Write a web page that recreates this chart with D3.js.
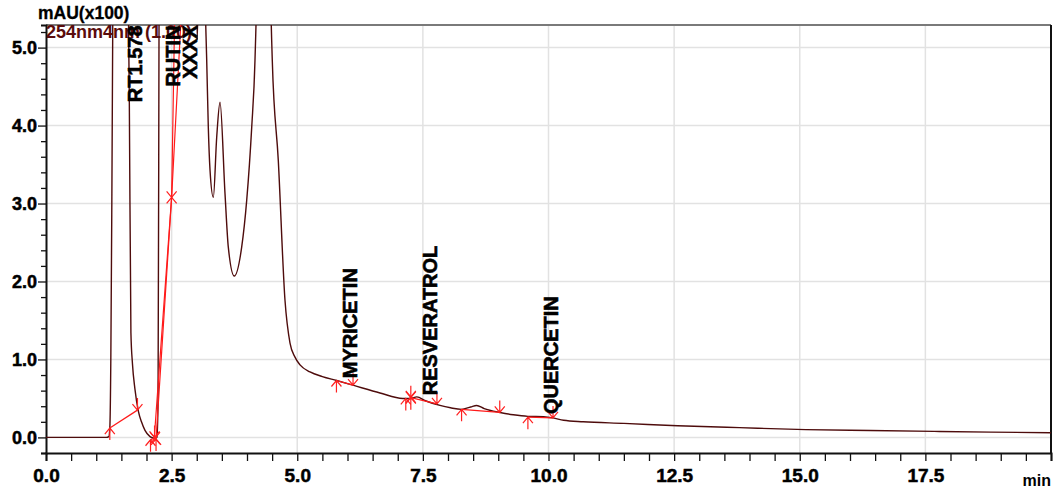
<!DOCTYPE html>
<html>
<head>
<meta charset="utf-8">
<script src="https://cdn.jsdelivr.net/npm/d3@7"></script>
<style>
  body { margin: 0; background: #fff; }
  svg { display: block; font-family: "Liberation Sans", Arial, sans-serif; }
</style>
</head>
<body>
<div class="chart"></div>
<script>
// chromatogram trace (min, mAU x100)
const traceTime = [0.0, 1.20, 1.25, 1.27, 1.29, 1.31, 1.33, 1.45, 1.60, 1.658, 1.69, 1.72, 1.77, 1.84, 1.90, 1.97, 2.07, 2.15, 2.21,
  2.23, 2.25, 2.35, 2.70, 2.85, 2.97, 3.01, 3.05, 3.12, 3.17, 3.198, 3.23, 3.264, 3.33, 3.397, 3.463, 3.562, 3.628, 3.747,
  3.894, 3.994, 4.094, 4.159, 4.20, 4.33, 4.45, 4.503, 4.623, 4.756, 4.856, 4.955, 5.055, 5.254, 5.5, 5.785, 6.11, 6.647,
  7.10, 7.25, 7.38, 7.55, 7.84, 8.05, 8.27, 8.45, 8.57, 8.72, 9.035, 9.3, 9.59, 9.9, 10.09, 10.3, 10.69, 11.5, 12.57,
  13.8, 15.12, 16.4, 17.68, 18.8, 20.0];
const traceValue = [0.0, 0.0, 0.01, 0.12, 1.0, 3.0, 5.5, 30, 8, 4.33, 1.34, 0.95, 0.62, 0.33, 0.20, 0.09, 0.01, -0.01, 0.0,
  0.5, 5.5, 30, 30, 20, 7, 5.1, 6.5, 7, 5.5, 4.84, 3.98, 3.43, 3.08, 3.85, 4.30, 3.13, 2.44, 2.07,
  2.44, 3.04, 3.98, 4.84, 6, 20, 6.5, 4.84, 3.55, 1.76, 1.21, 1.03, 0.93, 0.84, 0.78, 0.73, 0.67, 0.57,
  0.50, 0.50, 0.52, 0.47, 0.41, 0.38, 0.36, 0.39, 0.41, 0.37, 0.32, 0.29, 0.27, 0.265, 0.25, 0.22, 0.20, 0.18, 0.15,
  0.125, 0.10, 0.088, 0.077, 0.068, 0.06];

// peak labels
const peakNames = ["RT1.578", "RUTIN", "XXXX", "MYRICETIN", "RESVERATROL", "QUERCETIN"];
const peakLabelTime = [1.91, 2.66, 3.01, 6.19, 7.78, 10.19];
const peakLabelLevel = [4.30, 4.50, 4.60, 0.76, 0.54, 0.30];

// integration marks
const startMarks = [[1.27, 0.12], [2.08, -0.03], [2.19, -0.02], [5.78, 0.73], [7.16, 0.50], [7.26, 0.51], [8.27, 0.36], [9.59, 0.26]];
const endMarks = [[1.82, 0.35], [2.16, 0.0], [6.11, 0.67], [7.26, 0.51], [7.78, 0.43], [9.03, 0.32], [10.09, 0.25]];
const splitMarks = [[2.17, -0.01], [2.50, 3.08], [7.26, 0.52]];
const baselines = [
  [[1.27, 0.12], [1.82, 0.35]],
  [[2.08, -0.03], [2.20, 0.0]],
  [[2.19, -0.02], [2.50, 3.08], [2.69, 5.4]],
  [[2.15, -0.05], [2.50, 3.08], [2.56, 5.4]],
  [[5.78, 0.73], [6.11, 0.67]],
  [[7.26, 0.51], [7.78, 0.43]],
  [[8.27, 0.36], [9.03, 0.32]],
  [[9.59, 0.26], [10.09, 0.25]]
];

const xTicks = [0, 2.5, 5, 7.5, 10, 12.5, 15, 17.5];
const yTicks = [0, 1, 2, 3, 4, 5];

const width = 1064, height = 495;
const margin = { top: 25, right: 13, bottom: 42, left: 46 };

const svg = d3.select(".chart")
  .append("svg")
  .attr("width", width)
  .attr("height", height);

const x = d3.scaleLinear().domain([0, 20]).range([margin.left, width - margin.right]);
const y = d3.scaleLinear().domain([-0.2, 5.29]).range([height - margin.bottom, margin.top]);

svg.append("clipPath").attr("id", "plot")
  .append("rect")
  .attr("x", margin.left).attr("y", margin.top)
  .attr("width", width - margin.left - margin.right)
  .attr("height", height - margin.top - margin.bottom);

// grid
svg.append("g")
  .selectAll("line")
  .data(xTicks.slice(1))
  .join("line")
  .attr("x1", d => x(d)).attr("x2", d => x(d))
  .attr("y1", margin.top).attr("y2", height - margin.bottom)
  .attr("stroke", "#e2e2e2").attr("stroke-width", 1.5);

svg.append("g")
  .selectAll("line")
  .data(yTicks)
  .join("line")
  .attr("x1", margin.left).attr("x2", width - margin.right)
  .attr("y1", d => y(d)).attr("y2", d => y(d))
  .attr("stroke", "#e2e2e2").attr("stroke-width", 1.5);

// frame
svg.append("line")
  .attr("x1", margin.left).attr("x2", width - margin.right)
  .attr("y1", margin.top).attr("y2", margin.top)
  .attr("stroke", "#7a7a7a").attr("stroke-width", 2);
svg.append("line")
  .attr("x1", width - margin.right).attr("x2", width - margin.right)
  .attr("y1", margin.top).attr("y2", height - margin.bottom)
  .attr("stroke", "#111").attr("stroke-width", 2);

// axes
const xAxis = d3.axisBottom(x)
  .tickValues(d3.range(0, 20.01, 0.5))
  .tickSize(8)
  .tickFormat(d => xTicks.includes(d) ? d.toFixed(1) : "");

svg.append("g")
  .attr("transform", `translate(0,${height - margin.bottom})`)
  .call(xAxis)
  .call(g => g.select(".domain").attr("stroke", "#111").attr("stroke-width", 2))
  .call(g => g.selectAll(".tick line").attr("stroke", "#111").attr("stroke-width", 1.3))
  .call(g => g.selectAll(".tick text")
    .attr("y", 16)
    .attr("fill", "#000")
    .attr("stroke", "#000")
    .attr("stroke-width", 0.5)
    .style("font-size", "19px")
    .style("font-weight", "bold"));

const yAxis = d3.axisLeft(y)
  .tickValues(d3.range(-0.2, 5.21, 0.2).map(d => Math.round(d * 10) / 10))
  .tickSize(5)
  .tickFormat(d => yTicks.includes(d) ? d.toFixed(1) : "");

svg.append("g")
  .attr("transform", `translate(${margin.left},0)`)
  .call(yAxis)
  .call(g => g.select(".domain").attr("stroke", "#111").attr("stroke-width", 2))
  .call(g => g.selectAll(".tick line")
    .attr("stroke", "#111")
    .attr("stroke-width", 1.3)
    .attr("x2", d => yTicks.includes(d) ? -8 : -5))
  .call(g => g.selectAll(".tick text")
    .attr("x", -9)
    .attr("fill", "#000")
    .attr("stroke", "#000")
    .attr("stroke-width", 0.5)
    .style("font-size", "18px")
    .style("font-weight", "bold"));

svg.append("text")
  .attr("x", width - margin.right)
  .attr("y", 486)
  .attr("text-anchor", "end")
  .style("font-size", "16px")
  .style("font-weight", "bold")
  .text("min");

svg.append("text")
  .attr("x", 38).attr("y", 19)
  .attr("stroke", "#000")
  .attr("stroke-width", 0.3)
  .style("font-size", "17.5px")
  .style("font-weight", "bold")
  .text("mAU(x100)");

svg.append("text")
  .attr("x", 46).attr("y", 38)
  .attr("fill", "#5a0c0c")
  .style("font-size", "18px")
  .style("font-weight", "bold")
  .text("254nm4nm (1.00)");

// trace
const traceData = traceTime.map((t, i) => ({ t, v: traceValue[i] }));
const line = d3.line()
  .x(d => x(d.t))
  .y(d => y(d.v))
  .curve(d3.curveMonotoneX);

const plot = svg.append("g").attr("clip-path", "url(#plot)");

plot.append("path")
  .datum(traceData)
  .attr("fill", "none")
  .attr("stroke", "#4e0c0c")
  .attr("stroke-width", 1.4)
  .attr("d", line);

// red baselines and markers
const redLine = d3.line().x(d => x(d[0])).y(d => y(d[1]));
plot.selectAll("path.base")
  .data(baselines)
  .join("path")
  .attr("class", "base")
  .attr("fill", "none")
  .attr("stroke", "#ff1a1a")
  .attr("stroke-width", 1.2)
  .attr("d", redLine);

const marks = svg.append("g")
  .attr("fill", "none")
  .attr("stroke", "#ff2020")
  .attr("stroke-width", 1.2);

marks.selectAll("path.up")
  .data(startMarks)
  .join("path")
  .attr("class", "up")
  .attr("d", d => {
    const px = x(d[0]), py = y(d[1]);
    return `M${px},${py + 12}L${px},${py}M${px - 5},${py + 6}L${px},${py}L${px + 5},${py + 6}`;
  });

marks.selectAll("path.down")
  .data(endMarks)
  .join("path")
  .attr("class", "down")
  .attr("d", d => {
    const px = x(d[0]), py = y(d[1]);
    return `M${px},${py - 12}L${px},${py}M${px - 5},${py - 6}L${px},${py}L${px + 5},${py - 6}`;
  });

marks.selectAll("path.split")
  .data(splitMarks)
  .join("path")
  .attr("class", "split")
  .attr("d", d => {
    const px = x(d[0]), py = y(d[1]);
    return `M${px - 5},${py - 6}L${px + 5},${py + 6}M${px - 5},${py + 6}L${px + 5},${py - 6}`;
  });

// peak labels
svg.append("g")
  .selectAll("text")
  .data(peakNames)
  .join("text")
  .attr("transform", (d, i) => `translate(${x(peakLabelTime[i])},${y(peakLabelLevel[i])}) rotate(-90)`)
  .style("font-size", "20px")
  .style("font-weight", "bold")
  .attr("fill", "#000")
  .attr("stroke", "#000")
  .attr("stroke-width", 0.6)
  .text(d => d);
</script>
</body>
</html>
